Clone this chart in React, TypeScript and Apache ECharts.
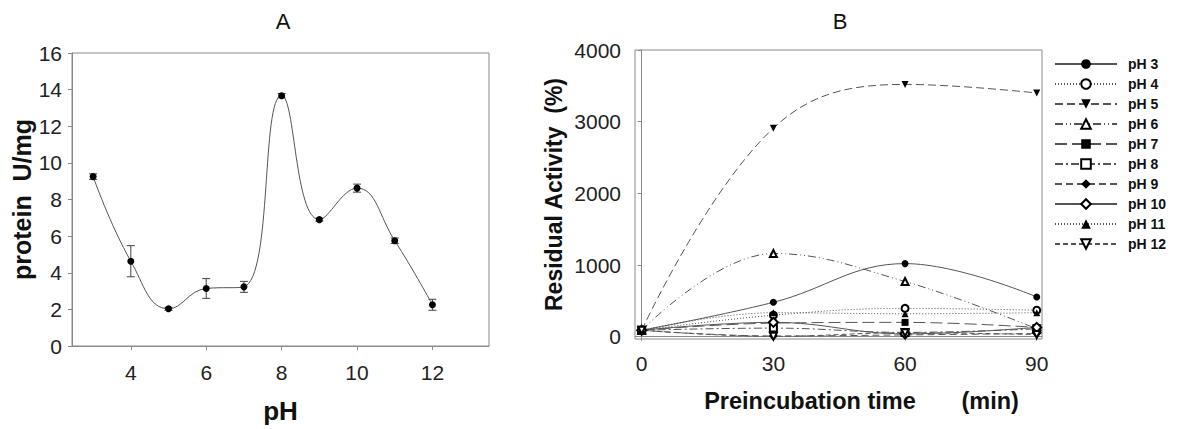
import React, { useEffect, useRef } from "react";
import * as echarts from "echarts";

const phA = [3, 4, 5, 6, 7, 8, 9, 10, 11, 12];
const activityA = [9.25, 4.63, 2.03, 3.14, 3.23, 13.67, 6.9, 8.62, 5.75, 2.25];
const errA = [0.15, 0.85, 0.08, 0.54, 0.3, 0.12, 0.08, 0.22, 0.15, 0.3];
const xTicksA = [4, 6, 8, 10, 12];

const timesB = [0, 30, 60, 90];
const xTicksB = [0, 30, 60, 90];
const yTicksB = [0, 1000, 2000, 3000, 4000];
const namesB = ["pH 3", "pH 4", "pH 5", "pH 6", "pH 7", "pH 8", "pH 9", "pH 10", "pH 11", "pH 12"];
const pH3 = [90, 480, 1020, 555];
const pH4 = [90, 300, 395, 370];
const pH5 = [90, 2910, 3520, 3400];
const pH6 = [90, 1160, 770, 110];
const pH7 = [90, 190, 200, 130];
const pH8 = [90, 120, 60, 110];
const pH9 = [90, 10, 25, 45];
const pH10 = [90, 200, 40, 130];
const pH11 = [90, 335, 320, 335];
const pH12 = [90, 5, 55, 30];
const valuesB = [pH3, pH4, pH5, pH6, pH7, pH8, pH9, pH10, pH11, pH12];

const stylesB: any[] = [
  { symbol: "circle", dash: "solid" },
  { symbol: "emptyCircle", dash: [1, 2] },
  { symbol: "triangle", dash: [8, 4], rotate: 180 },
  { symbol: "emptyTriangle", dash: [8, 3, 1, 3, 1, 3] },
  { symbol: "rect", dash: [12, 5] },
  { symbol: "emptyRect", dash: [8, 3, 2, 3] },
  { symbol: "diamond", dash: [7, 4] },
  { symbol: "emptyDiamond", dash: "solid" },
  { symbol: "triangle", dash: [1, 2] },
  { symbol: "emptyTriangle", dash: [5, 3], rotate: 180 },
];

const FONT = "Liberation Sans, Arial, sans-serif";
const AXIS_GRAY = "#8a8a8a";
const LINE_GRAY = "#555";

export default function App() {
  const ref = useRef<HTMLDivElement>(null);
  useEffect(() => {
    document.body.style.margin = "0";
    const chart = echarts.init(ref.current!, null, { renderer: "svg" });

    const axisCommon = {
      axisLine: { show: true, lineStyle: { color: AXIS_GRAY, width: 1 } },
      axisTick: { show: true, inside: false, length: 4, lineStyle: { color: AXIS_GRAY } },
      splitLine: { show: false },
      axisLabel: { color: "#222", fontSize: 21, fontFamily: FONT },
    };

    const seriesB = namesB.map((name, i) => {
      const s = stylesB[i];
      return {
        name,
        type: "line",
        xAxisIndex: 1,
        yAxisIndex: 1,
        smooth: 0.4,
        data: timesB.map((t, j) => [t, valuesB[i][j]]),
        symbol: s.symbol,
        symbolSize: s.symbol.toLowerCase().indexOf("diamond") >= 0 ? 9 : 7,
        symbolRotate: s.rotate || 0,
        showAllSymbol: true,
        lineStyle: { color: LINE_GRAY, width: 1, type: s.dash },
        itemStyle: { color: "#000", borderWidth: 1 },
        z: 3,
      };
    });

    chart.setOption({
      animation: false,
      textStyle: { fontFamily: FONT },
      title: [
        { text: "A", left: 278, top: 5, textAlign: "center", textStyle: { fontSize: 22, fontWeight: "normal", color: "#111", fontFamily: FONT } },
        { text: "B", left: 835, top: 5, textAlign: "center", textStyle: { fontSize: 22, fontWeight: "normal", color: "#111", fontFamily: FONT } },
      ],
      grid: [
        { left: 72, top: 53, width: 417, height: 297, show: true, borderColor: AXIS_GRAY, borderWidth: 1, containLabel: false },
        { left: 635, top: 50, width: 407, height: 289, show: true, borderColor: AXIS_GRAY, borderWidth: 1, containLabel: false },
      ],
      xAxis: [
        {
          ...axisCommon,
          type: "value",
          gridIndex: 0,
          min: 2.44,
          max: 13.5,
          axisLabel: { ...axisCommon.axisLabel, margin: 16, customValues: xTicksA },
          axisTick: { ...axisCommon.axisTick, customValues: xTicksA },
          name: "pH",
          nameLocation: "middle",
          nameGap: 52,
          nameTextStyle: { fontSize: 26, fontWeight: "bold", color: "#111", fontFamily: FONT },
        },
        {
          ...axisCommon,
          type: "value",
          gridIndex: 1,
          min: -1.53,
          max: 91.2,
          axisLabel: { ...axisCommon.axisLabel, margin: 14, customValues: xTicksB },
          axisTick: { ...axisCommon.axisTick, customValues: xTicksB },
          name: "Preincubation time       (min)",
          nameLocation: "middle",
          nameGap: 50,
          nameTextStyle: { fontSize: 23.5, fontWeight: "bold", color: "#111", fontFamily: FONT, padding: [0, 0, 0, 46] },
        },
      ],
      yAxis: [
        {
          ...axisCommon,
          type: "value",
          gridIndex: 0,
          min: 0,
          max: 16,
          interval: 2,
          axisLabel: { ...axisCommon.axisLabel, margin: 10 },
          name: "protein  U/mg",
          nameLocation: "middle",
          nameGap: 38,
          nameTextStyle: { fontSize: 25, fontWeight: "bold", color: "#111", fontFamily: FONT },
        },
        {
          ...axisCommon,
          type: "value",
          gridIndex: 1,
          min: -32,
          max: 4000,
          axisLabel: { ...axisCommon.axisLabel, margin: 14, customValues: yTicksB, formatter: (v: number) => String(v) },
          axisTick: { ...axisCommon.axisTick, customValues: yTicksB },
          name: "Residual Activity  (%)",
          nameLocation: "middle",
          nameGap: 70,
          nameTextStyle: { fontSize: 23, fontWeight: "bold", color: "#111", fontFamily: FONT },
        },
      ],
      legend: {
        orient: "vertical",
        left: 1049,
        top: 52,
        itemWidth: 62,
        itemHeight: 12,
        itemGap: 6,
        data: namesB,
        itemStyle: { borderWidth: 1 },
        textStyle: { fontSize: 14, fontWeight: "bold", color: "#111", fontFamily: FONT, lineHeight: 14, padding: [0, 0, 0, 6] },
      },
      series: [
        {
          name: "A-line",
          type: "line",
          xAxisIndex: 0,
          yAxisIndex: 0,
          smooth: 0.45,
          data: phA.map((p, i) => [p, activityA[i]]),
          symbol: "circle",
          symbolSize: 7,
          lineStyle: { color: LINE_GRAY, width: 1 },
          itemStyle: { color: "#000" },
          z: 3,
        },
        {
          name: "A-err",
          type: "custom",
          xAxisIndex: 0,
          yAxisIndex: 0,
          data: phA.map((p, i) => [p, activityA[i] - errA[i], activityA[i] + errA[i]]),
          renderItem: (params: any, api: any) => {
            const lo = api.coord([api.value(0), api.value(1)]);
            const hi = api.coord([api.value(0), api.value(2)]);
            const w = 4;
            const st = { stroke: "#444", lineWidth: 1 };
            return {
              type: "group",
              children: [
                { type: "line", shape: { x1: lo[0], y1: lo[1], x2: hi[0], y2: hi[1] }, style: st },
                { type: "line", shape: { x1: lo[0] - w, y1: lo[1], x2: lo[0] + w, y2: lo[1] }, style: st },
                { type: "line", shape: { x1: hi[0] - w, y1: hi[1], x2: hi[0] + w, y2: hi[1] }, style: st },
              ],
            };
          },
          z: 2,
        },
        ...seriesB,
      ],
    });
    return () => chart.dispose();
  }, []);
  return <div ref={ref} style={{ width: 1177, height: 429 }} />;
}
